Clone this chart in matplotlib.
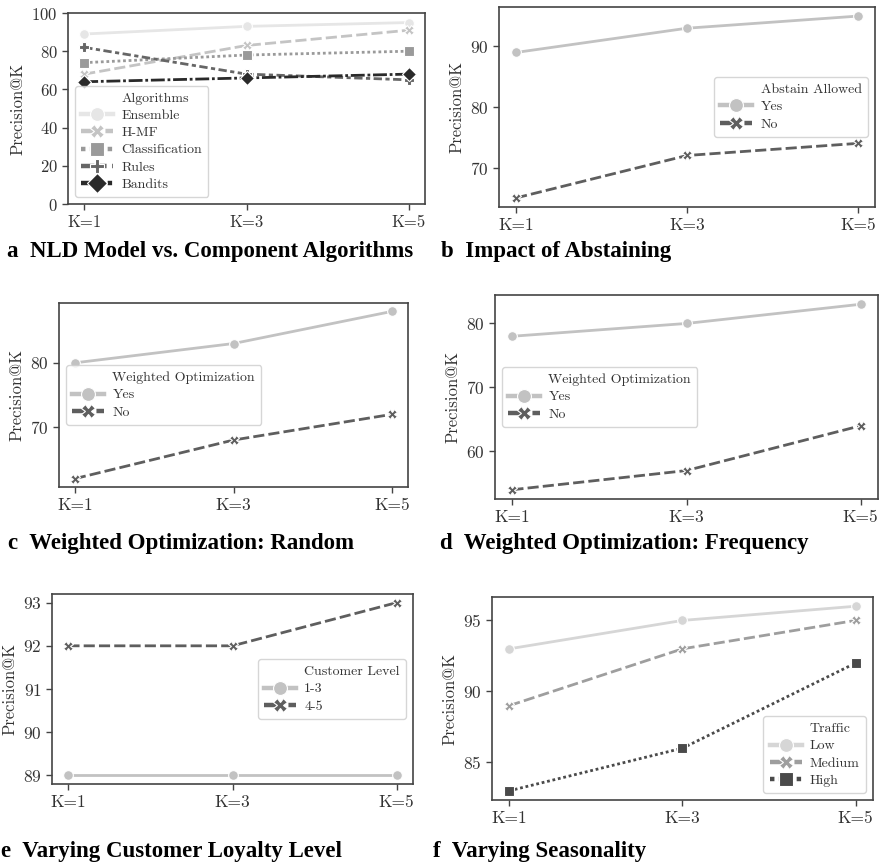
import matplotlib
matplotlib.use("Agg")
import matplotlib.pyplot as plt
from matplotlib.lines import Line2D

W, H = 882, 863
DPI = 100

ks = ["K=1", "K=3", "K=5"]

# Panel a
algos = ["Ensemble", "H-MF", "Classification", "Rules", "Bandits"]
ensemble = [89, 93, 95]
hmf = [68, 83, 91]
classification = [74, 78, 80]
rules = [82, 68, 65]
bandits = [64, 66, 68]

# Panel b
abstain_yes = [89, 93, 95]
abstain_no = [65, 72, 74]

# Panel c
rand_yes = [80, 83, 88]
rand_no = [62, 68, 72]

# Panel d
freq_yes = [78, 80, 83]
freq_no = [54, 57, 64]

# Panel e
level_13 = [89, 89, 89]
level_45 = [92, 92, 93]

# Panel f
traffic_low = [93, 95, 96]
traffic_med = [89, 93, 95]
traffic_high = [83, 86, 92]

TXT = "#333333"
plt.rcParams.update({
    "font.family": ["cmr10", "DejaVu Serif"],
    "axes.formatter.use_mathtext": True,
    "text.color": TXT,
    "axes.labelcolor": TXT,
    "xtick.color": "#444444",
    "ytick.color": "#444444",
    "xtick.labelcolor": TXT,
    "ytick.labelcolor": TXT,
})

DASHES = ["", (4, 1.5), (1, 1), (3, 1.25, 1.5, 1.25), (5, 1, 1, 1)]
MARKERS = ["o", "X", "s", "P", "D"]

fig = plt.figure(figsize=(W / DPI, H / DPI), dpi=DPI)


def add_ax(l, t, r, b):
    return fig.add_axes([l / W, 1 - b / H, (r - l) / W, (b - t) / H])


def style_ax(ax, fs=12.5):
    for s in ax.spines.values():
        s.set_color("#444444")
        s.set_linewidth(1.2)
    ax.tick_params(labelsize=fs, length=4, width=1.0)
    ax.set_ylabel("Precision@K", fontsize=12, labelpad=4)


def plot_series(ax, ys, labels, colors, idxs, legend_title, loc, anchor=None):
    x = list(range(len(ks)))
    handles = [Line2D([], [], linestyle="none", marker="none")]
    names = [legend_title]
    for y, lab, c, i in zip(ys, labels, colors, idxs):
        ln, = ax.plot(x, y, color=c, lw=2.0, marker=MARKERS[i], ms=7,
                      mec="white", mew=0.8, label=lab)
        if DASHES[i]:
            ln.set_dashes(DASHES[i])
        h = Line2D([], [], color=c, lw=3.2, marker=MARKERS[i], ms=10,
                   mec="white", mew=0.8)
        if DASHES[i]:
            h.set_dashes(DASHES[i])
        handles.append(h)
        names.append(lab)
    ax.set_xticks(x)
    ax.set_xticklabels(ks)
    kw = dict(loc=loc, fontsize=10, handlelength=2.3, frameon=True,
              borderpad=0.45, labelspacing=0.32, handletextpad=0.6)
    if anchor is not None:
        kw["bbox_to_anchor"] = anchor
    leg = ax.legend(handles, names, **kw)
    leg.get_frame().set_edgecolor("#cccccc")
    for t in leg.get_texts():
        t.set_color(TXT)


# a
ax = add_ax(68, 13, 425, 204)
plot_series(ax, [ensemble, hmf, classification, rules, bandits], algos,
            ["#e6e6e6", "#c4c4c4", "#9a9a9a", "#666666", "#2a2a2a"],
            [0, 1, 2, 3, 4], "Algorithms", "lower left")
ax.set_ylim(0, 100)
style_ax(ax, 12)

# b
ax = add_ax(499, 7, 875, 207)
plot_series(ax, [abstain_yes, abstain_no], ["Yes", "No"],
            ["#c2c2c2", "#5e5e5e"], [0, 1], "Abstain Allowed", "center right")
ax.set_yticks([70, 80, 90])
style_ax(ax)

# c
ax = add_ax(59, 303, 408, 487)
plot_series(ax, [rand_yes, rand_no], ["Yes", "No"],
            ["#c2c2c2", "#5e5e5e"], [0, 1], "Weighted Optimization", "center left")
ax.set_yticks([70, 80])
style_ax(ax)

# d
ax = add_ax(495, 295, 878, 499)
plot_series(ax, [freq_yes, freq_no], ["Yes", "No"],
            ["#c2c2c2", "#5e5e5e"], [0, 1], "Weighted Optimization", "center left")
ax.set_yticks([60, 70, 80])
style_ax(ax)

# e
ax = add_ax(52, 594, 413, 784)
plot_series(ax, [level_13, level_45], ["1-3", "4-5"],
            ["#c2c2c2", "#5e5e5e"], [0, 1], "Customer Level", "center right")
ax.set_yticks([89, 90, 91, 92, 93])
style_ax(ax)

# f
ax = add_ax(492, 597, 873, 800)
plot_series(ax, [traffic_low, traffic_med, traffic_high], ["Low", "Medium", "High"],
            ["#d6d6d6", "#9e9e9e", "#4a4a4a"], [0, 1, 2], "Traffic", "lower right")
ax.set_yticks([85, 90, 95])
style_ax(ax)

# captions
TF = dict(fontsize=16.5, fontweight="bold", family="Liberation Serif", color="black",
          va="baseline", ha="left")
caps = [
    (7, 257, "a  NLD Model vs. Component Algorithms"),
    (441, 257, "b  Impact of Abstaining"),
    (8, 549, "c  Weighted Optimization: Random"),
    (440, 549, "d  Weighted Optimization: Frequency"),
    (1, 857, "e  Varying Customer Loyalty Level"),
    (433, 857, "f  Varying Seasonality"),
]
for x, y, s in caps:
    fig.text(x / W, 1 - y / H, s, **TF)

fig.savefig("out.png", dpi=DPI)
